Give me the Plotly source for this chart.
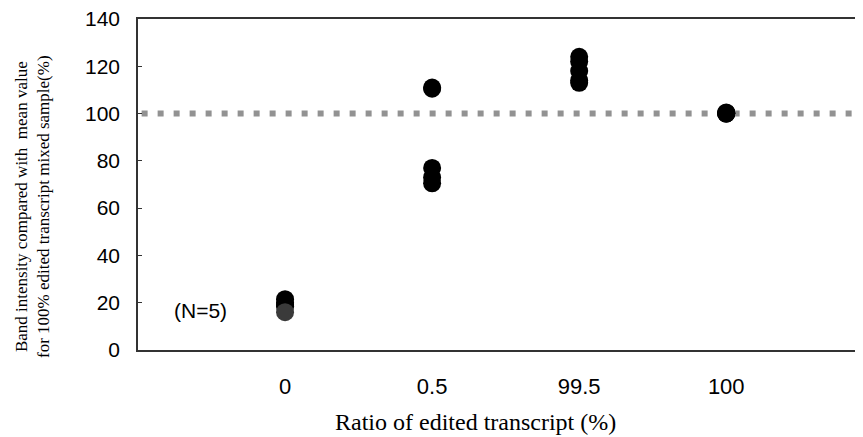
import plotly.graph_objects as go

categories = ["0", "0.5", "99.5", "100"]
cat_pos = [1, 2, 3, 4]
values = {
    "0": [21.5, 20.0, 19.0, 18.5, 16.0],
    "0.5": [111.0, 110.5, 77.0, 73.0, 70.5],
    "99.5": [124.0, 122.0, 118.0, 114.0, 113.0],
    "100": [100.5, 100.2, 100.0, 100.0, 100.0],
}
group_colors = {
    "0": ["#000000", "#000000", "#000000", "#000000", "#3a3a3a"],
    "0.5": ["#000000"] * 5,
    "99.5": ["#000000"] * 5,
    "100": ["#000000"] * 5,
}
y_ticks = [0, 20, 40, 60, 80, 100, 120, 140]
ref_value = 100

fig = go.Figure()
for pos, cat in zip(cat_pos, categories):
    vals = values[cat]
    fig.add_trace(go.Scatter(
        x=[pos] * len(vals), y=vals, mode="markers",
        marker=dict(size=18, color=group_colors[cat], line=dict(width=0)),
        showlegend=False, hoverinfo="y"))

fig.add_shape(type="line", xref="paper", yref="y", x0=0.005, x1=1, y0=ref_value, y1=ref_value,
              line=dict(color="#929292", width=6, dash="6px,10px"), layer="below")

fig.add_annotation(x=(172 - 138) / 725, y=(350 - 310) / 331, xref="paper", yref="paper", text="(N=5)",
                   showarrow=False, xanchor="left", yanchor="middle",
                   font=dict(family="Liberation Sans, Arial", size=21, color="#000"))

fig.add_annotation(x=(33 - 138) / 725, y=(350 - 207) / 331, xref="paper", yref="paper", textangle=-90,
                   showarrow=False, xanchor="center", yanchor="middle",
                   text="Band intensity compared with  mean value<br>for 100% edited transcript mixed sample(%)",
                   font=dict(family="Liberation Serif, Times New Roman", size=17, color="#000"),
                   align="center")

fig.add_annotation(x=(475 - 138) / 725, y=-(422 - 350) / 331, xref="paper", yref="paper", showarrow=False,
                   xanchor="center", yanchor="middle",
                   text="Ratio of edited transcript (%)",
                   font=dict(family="Liberation Serif, Times New Roman", size=24, color="#000"))

fig.update_layout(
    width=863, height=437,
    margin=dict(l=130, r=8, t=11, b=95),
    paper_bgcolor="white", plot_bgcolor="white",
    xaxis=dict(range=[0, 4.93], tickvals=cat_pos, ticktext=categories, showgrid=False, zeroline=False,
               showline=True, linecolor="#333", linewidth=1.5, mirror=True, ticks="",
               tickfont=dict(family="Liberation Sans, Arial", size=22, color="#000"),
               ticklabelstandoff=16, automargin=False, ticklabeloverflow="allow"),
    yaxis=dict(range=[0, 140], tickvals=y_ticks, showgrid=False, zeroline=False,
               showline=True, linecolor="#333", linewidth=1.5, mirror=True,
               ticks="inside", ticklen=4, tickcolor="#333",
               tickfont=dict(family="Liberation Sans, Arial", size=21, color="#000"),
               ticklabelstandoff=12, automargin=False, ticklabeloverflow="allow"),
)

fig.write_html("out.html")
